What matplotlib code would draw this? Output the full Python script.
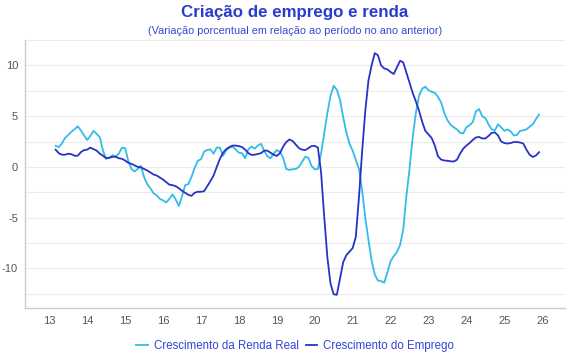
import matplotlib
matplotlib.use("Agg")
import matplotlib.pyplot as plt
import numpy as np

# Monthly series, starting March 2013 (x in "years since 2000")
start_year = 13
start_month = 2  # March (0 = January)

renda = [
    2.07, 1.95, 2.3, 2.85, 3.15, 3.45, 3.7, 4.0, 3.6, 3.1,
    2.65, 3.05, 3.55, 3.25, 2.9, 1.6, 0.8, 0.9, 1.15, 1.0,
    1.3, 1.9, 1.85, 0.6, -0.2, -0.45, -0.2, 0.1, -1.0, -1.7,
    -2.1, -2.6, -2.8, -3.15, -3.3, -3.5, -3.15, -2.7, -3.2, -3.85,
    -2.9, -1.8, -1.7, -1.0, -0.1, 0.6, 0.75, 1.5, 1.67, 1.72,
    1.3, 1.9, 1.9, 1.1, 1.65, 1.9, 2.0, 1.7, 1.4, 1.35,
    0.85, 1.75, 2.0, 1.8, 2.1, 2.27, 1.6, 1.05, 0.85, 1.3,
    1.65, 1.5, 0.9, -0.2, -0.3, -0.23, -0.2, 0.0, 0.5, 1.0,
    0.9, 0.1, -0.25, -0.2, 1.3, 3.3, 5.3, 7.0, 8.0, 7.6,
    6.6, 4.9, 3.4, 2.3, 1.6, 0.7, -0.2, -2.3, -5.0, -7.2,
    -9.2, -10.6, -11.2, -11.25, -11.4, -10.4, -9.3, -8.8, -8.4, -7.7,
    -6.2, -2.9, -0.2, 2.9, 5.3, 7.0, 7.7, 7.9, 7.55, 7.4,
    7.3, 6.9, 6.35, 5.3, 4.6, 4.15, 3.9, 3.7, 3.35, 3.3,
    3.9, 4.1, 4.4, 5.45, 5.7, 5.0, 4.8, 4.2, 3.7, 3.6,
    4.2, 3.9, 3.55, 3.7, 3.5, 3.1, 3.15, 3.55, 3.6, 3.7,
    3.95, 4.2, 4.7, 5.15,
]

emprego = [
    1.7, 1.35, 1.2, 1.2, 1.3, 1.25, 1.1, 1.1, 1.45, 1.65,
    1.7, 1.9, 1.75, 1.6, 1.3, 1.1, 0.85, 0.9, 1.0, 1.0,
    0.85, 0.8, 0.63, 0.4, 0.3, 0.15, 0.0, -0.05, -0.2, -0.35,
    -0.55, -0.75, -0.85, -1.05, -1.25, -1.5, -1.75, -1.8, -1.9, -2.1,
    -2.35, -2.55, -2.75, -2.85, -2.55, -2.45, -2.45, -2.4, -1.9, -1.4,
    -0.85, 0.0, 0.8, 1.4, 1.75, 1.95, 2.1, 2.1, 2.05, 1.95,
    1.7, 1.35, 1.18, 1.2, 1.28, 1.35, 1.6, 1.6, 1.4, 1.2,
    1.08, 1.35, 2.0, 2.45, 2.7, 2.55, 2.2, 1.85, 1.7, 1.65,
    1.85, 2.05, 2.07, 1.9, -0.5, -4.9, -8.9, -11.5, -12.55, -12.6,
    -11.0, -9.4, -8.7, -8.35, -8.0, -6.9, -3.0, 1.5, 5.5, 8.5,
    10.0, 11.2, 11.0, 10.0, 9.7, 9.6, 9.35, 9.15, 9.8, 10.45,
    10.3, 9.3, 8.3, 7.3, 6.45, 5.55, 4.45, 3.55, 3.2, 2.85,
    2.1, 1.05, 0.72, 0.63, 0.6, 0.55, 0.53, 0.7, 1.3, 1.8,
    2.1, 2.35, 2.65, 2.9, 2.95, 2.8, 2.8, 3.05, 3.35, 3.4,
    3.1, 2.5, 2.35, 2.3, 2.35, 2.45, 2.45, 2.4, 2.3, 1.7,
    1.2, 0.98, 1.12, 1.45,
]

year_ticks = list(range(13, 27))
year_labels = [str(y) for y in year_ticks]
y_ticks = [-10, -5, 0, 5, 10]
y_labels = ["-10", "-5", "0", "5", "10"]

title = "Criação de emprego e renda"
subtitle = "(Variação porcentual em relação ao período no ano anterior)"
label_renda = "Crescimento da Renda Real"
label_emprego = "Crescimento do Emprego"

c_renda = "#33bbe9"
c_emprego = "#2633c6"
c_title = "#2a3ccc"

plt.rcParams['font.family'] = ['Liberation Sans', 'DejaVu Sans']

x = start_year + (start_month + np.arange(len(renda))) / 12.0

fig = plt.figure(figsize=(5.7, 3.6), dpi=100)
ax = fig.add_axes([25/570, 1-308/360, (565-25)/570, (308-40)/360])

ax.plot(x, renda, color=c_renda, lw=1.3, label=label_renda)
ax.plot(x, emprego, color=c_emprego, lw=1.3, label=label_emprego)

ax.set_xlim(12.36, 26.6)
ax.set_ylim(-13.9, 12.5)
ax.set_xticks(year_ticks)
ax.set_xticklabels(year_labels)
ax.set_yticks(y_ticks)
ax.set_yticklabels(y_labels)
ax.set_yticks(np.arange(-12.5, 12.6, 2.5), minor=True)
ax.grid(True, which='both', axis='y', color='#ececec', lw=0.8)
ax.set_axisbelow(True)
ax.tick_params(axis='both', which='both', length=0, labelsize=8, colors='#555555', pad=6)
ax.tick_params(axis='y', pad=5)
for s in ['top', 'right']:
    ax.spines[s].set_visible(False)
for s in ['left', 'bottom']:
    ax.spines[s].set_color('#cccccc')
    ax.spines[s].set_linewidth(1.0)

cx = 295/570
fig.text(cx, 1-12.5/360, title, ha='center', va='center', fontsize=12.2,
         fontweight='bold', color=c_title)
fig.text(cx, 1-31.5/360, subtitle, ha='center', va='center', fontsize=7.8,
         color='#3646d4')

leg = fig.legend(loc='center', bbox_to_anchor=(cx, 1-346/360), ncol=2,
                 frameon=False, fontsize=8.3, handlelength=1.0, handletextpad=0.5,
                 columnspacing=0.6)
for t in leg.get_texts():
    t.set_color('#3344d6')

fig.savefig("out.png", dpi=100)
